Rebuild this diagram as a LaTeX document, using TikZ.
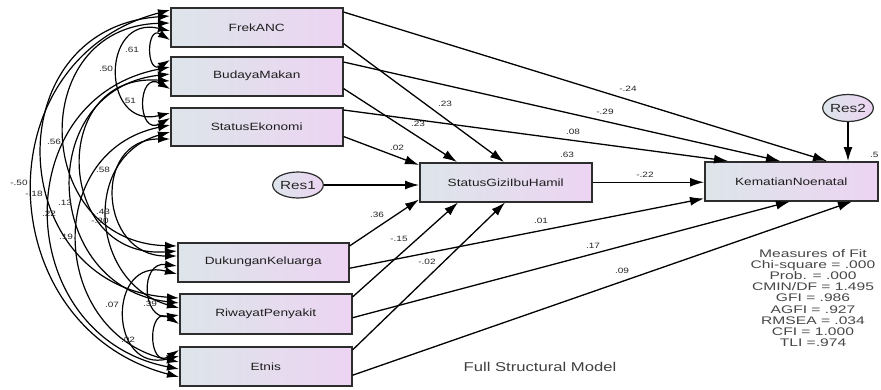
\documentclass[tikz,border=0pt]{standalone}
\usepackage{fontspec}
\newfontfamily\bxf[FakeStretch=1.3]{Liberation Sans}
\newfontfamily\msf[FakeStretch=1.42]{Liberation Sans}
\usetikzlibrary{arrows.meta,shapes.geometric}
\definecolor{boxL}{RGB}{221,229,234}
\definecolor{boxR}{RGB}{236,212,242}
\definecolor{edgegray}{RGB}{45,45,45}
\begin{document}
\begin{tikzpicture}[x=1pt,y=1pt,
 var/.style={draw=edgegray, line width=1.5pt, left color=boxL, right color=boxR, minimum width=172pt, minimum height=39pt, anchor=north west, inner sep=0pt, font=\bxf\fontsize{10.5}{12}\selectfont, text=black!88},
 res/.style={ellipse, draw=edgegray, line width=1.2pt, left color=boxL, right color=boxR, minimum width=49pt, minimum height=26pt, inner sep=0pt, font=\bxf\fontsize{11.8}{13}\selectfont, text=black!85},
 dpath/.style={line width=1.3pt, -{Latex[length=14pt,width=9pt]}},
 cov/.style={line width=1.2pt, {Latex[length=12pt,width=8pt]}-{Latex[length=12pt,width=8pt]}},
 lab/.style={font=\bxf\fontsize{7.7}{9}\selectfont, inner sep=0pt, text=black!85},
]
\fill[white] (0,0) rectangle (881,-389);
\useasboundingbox (0,0) rectangle (881,-389);

% variables
\node[var] (F) at (170,-7) {FrekANC};
\node[var] (B) at (170,-56) {BudayaMakan};
\node[var, minimum height=38pt] (S) at (170,-107) {StatusEkonomi};
\node[var, minimum width=171pt] (D) at (177,-242) {DukunganKeluarga};
\node[var, minimum height=40pt] (R) at (179,-293) {RiwayatPenyakit};
\node[var] (E) at (179,-346) {Etnis};
\node[var] (G) at (419,-162) {StatusGiziIbuHamil};
\node[var, minimum width=173pt] (K) at (704,-161) {KematianNoenatal};
\node[res] (R1) at (298,-185) {Res1};
\node[res, minimum height=27pt] (R2) at (848,-108) {Res2};

% regression paths
\draw[dpath] ([yshift=4pt]F.south east) -- ([xshift=85pt]G.north west);
\draw[dpath] ([yshift=8pt]B.south east) -- ([xshift=38pt]G.north west);
\draw[dpath] ([yshift=10pt]S.south east) -- ([yshift=-3pt]G.north west);
\draw[dpath] (R1.east) -- (R1.east -| G.west);
\draw[dpath] ([yshift=-4pt]D.north east) -- ([yshift=3pt]G.south west);
\draw[dpath] ([yshift=-4pt]R.north east) -- ([xshift=39pt]G.south west);
\draw[dpath] ([yshift=-4pt]E.north east) -- ([xshift=86pt]G.south west);
\draw[dpath] (G.east) -- (G.east -| K.west);
\draw[dpath] ([yshift=-5pt]F.north east) -- ([xshift=123pt]K.north west);
\draw[dpath] ([yshift=-6pt]B.north east) -- ([xshift=76pt]K.north west);
\draw[dpath] ([yshift=-3pt]S.north east) -- ([xshift=24pt]K.north west);
\draw[dpath] (R2.south) -- (R2.south |- K.north);
\draw[dpath] ([yshift=-6pt]D.east) -- ([yshift=3pt]K.south west);
\draw[dpath] ([yshift=-4pt]R.east) -- ([xshift=86pt]K.south west);
\draw[dpath] ([yshift=-9pt]E.east) -- ([xshift=148pt]K.south west);

% covariances
\draw[cov] ([yshift=-3pt]F.north west) to[out=194.7,in=165.3,distance=195pt] ([yshift=-31pt]E.north west);
\draw[cov] ([yshift=-9pt]F.north west) to[out=184,in=176,distance=175.8pt] ([yshift=-5pt]R.north west);
\draw[cov] ([yshift=-11pt]B.north west) to[out=191,in=169,distance=169pt] ([yshift=-23pt]E.north west);
\draw[cov] ([yshift=-16pt]F.north west) to[out=181.6,in=178.4,distance=144.7pt] ([yshift=-4pt]D.north west);
\draw[cov] ([yshift=-18pt]B.north west) to[out=186.4,in=173.6,distance=137.5pt] ([yshift=-10pt]R.north west);
\draw[cov] ([yshift=-18pt]S.north west) to[out=191.7,in=168.3,distance=131.4pt] ([yshift=-16pt]E.north west);
\draw[cov] ([yshift=-25pt]B.north west) to[out=175.8,in=184.2,distance=122.3pt] ([yshift=-9pt]D.north west);
\draw[cov] ([yshift=-25pt]S.north west) to[out=195.8,in=164.2,distance=92.2pt] ([yshift=-15pt]R.north west);
\draw[cov] ([yshift=-32pt]S.north west) to[out=180,in=180,distance=78pt] ([yshift=-14pt]D.north west);
\draw[cov] ([yshift=-33pt]F.north west) to[out=148.1,in=211.9,distance=28.3pt] ([yshift=-4pt]B.north west);
\draw[cov] ([yshift=-33pt]B.north west) to[out=150.2,in=209.8,distance=38.4pt] ([yshift=-11pt]S.north west);
\draw[cov] ([yshift=-24pt]F.north west) to[out=166.5,in=193.5,distance=71.3pt] ([yshift=-6pt]S.north west);
\draw[cov] ([yshift=-24pt]D.north west) to[out=172.4,in=187.6,distance=37.7pt] ([yshift=-22pt]R.north west);
\draw[cov] ([yshift=-31pt]R.north west) to[out=146.8,in=213.2,distance=38.2pt] ([yshift=-4pt]E.north west);
\draw[cov] ([yshift=-32pt]D.north west) to[out=165.6,in=194.4,distance=72.9pt] ([yshift=-10pt]E.north west);

% covariance labels
\node[lab] (c1) at (132,-50) {.61};
\node[lab] (c2) at (106,-69) {.50};
\node[lab] (c3) at (129,-101) {.51};
\node[lab] (c4) at (54,-142) {.56};
\node[lab] (c5) at (103,-170) {.58};
\node[lab] (c6) at (19,-183) {-.50};
\node[lab] (c7) at (34,-194) {-.18};
\node[lab] (c8) at (65,-203) {.13};
\node[lab] (c9) at (49,-214) {.22};
\node[lab] (c10) at (103,-212) {.43};
\node[lab] (c11) at (100,-221) {-.30};
\node[lab] (c12) at (66,-237) {.19};
\node[lab] (c13) at (112,-305) {.07};
\node[lab] (c14) at (150,-304) {.39};
\node[lab] (c15) at (128,-340) {.02};

% path labels
\node[lab] (p1) at (445,-104) {.23};
\node[lab] (p2) at (418,-124) {.23};
\node[lab] (p3) at (397,-148) {.02};
\node[lab] (p4) at (377,-215) {.36};
\node[lab] (p5) at (399,-239) {-.15};
\node[lab] (p6) at (427,-262) {-.02};
\node[lab] (p7) at (645,-175) {-.22};
\node[lab] (p8) at (628,-89) {-.24};
\node[lab] (p9) at (605,-112) {-.29};
\node[lab] (p10) at (573,-132) {.08};
\node[lab] (p11) at (541,-221) {.01};
\node[lab] (p12) at (593,-246) {.17};
\node[lab] (p13) at (622,-271) {.09};
\node[lab] (sq1) at (567,-155) {.63};
\node[lab, anchor=west] (sq2) at (870,-155) {.5};

% fit measures and title
\node[font=\msf\fontsize{11}{11.2}\selectfont, align=center, text=black!72, inner sep=0pt] (fit) at (813,-298)
 {Measures of Fit\\Chi-square = .000\\Prob. = .000\\CMIN/DF = 1.495\\GFI = .986\\AGFI = .927\\RMSEA = .034\\CFI = 1.000\\TLI =.974};
\node[font=\bxf\fontsize{12.8}{14}\selectfont, text=black!75, inner sep=0pt] (title) at (540,-367) {Full Structural Model};
\end{tikzpicture}
\end{document}
